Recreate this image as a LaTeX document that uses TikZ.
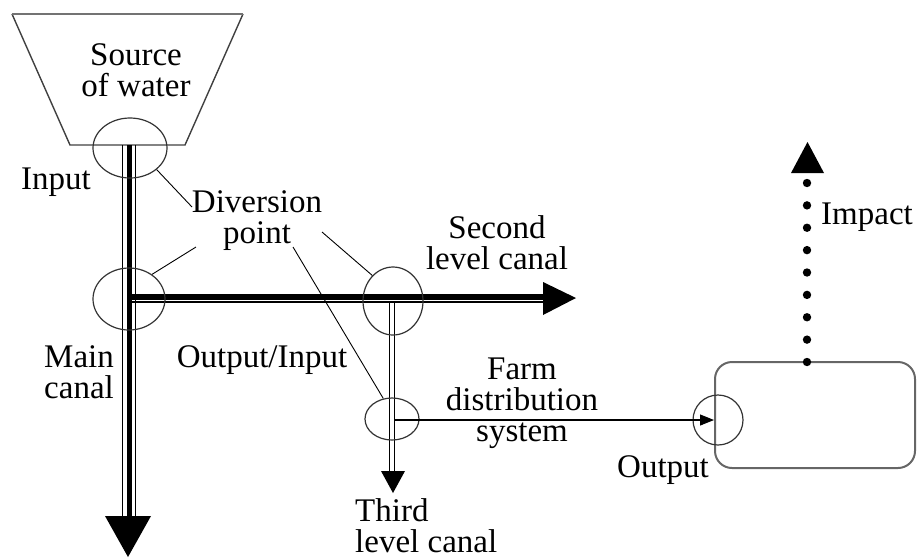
\documentclass[tikz,border=0pt]{standalone}
\usepackage{fontspec}
\setmainfont{Liberation Serif}
\usetikzlibrary{arrows.meta,shapes.geometric}
\begin{document}
\begin{tikzpicture}[x=1pt,y=-1pt,
  lbl/.style={font=\fontsize{33}{31}\selectfont, inner sep=0pt, align=center},
  ell/.style={draw=black!80, line width=1.2pt, ellipse, inner sep=0pt},
  leader/.style={draw=black, line width=0.9pt},
  thinc/.style={line width=1.3pt},
  thickc/.style={line width=5pt}]
\useasboundingbox (0,0) rectangle (920,558);
% source trapezoid
\draw[black!75, line width=1.4pt] (12,14) -- (70,145) -- (185,145) -- (243,14);
\draw[black!55, line width=2.6pt] (12,14) -- (243,14);
\node[lbl, anchor=north] (src) at (136,43) {Source\\of water};
% main canal
\coordinate (mtop) at (129,145);
\coordinate (mbot) at (129,516);
\draw[thickc] (mtop) -- (mbot);
\draw[thinc] ([xshift=-6.5pt]mtop) -- ([xshift=-6.5pt]mbot);
\draw[thinc] ([xshift=6.5pt]mtop) -- ([xshift=6.5pt]mbot);
\fill (105,516) -- (151,516) -- (128,557) -- cycle;
% second level canal
\coordinate (hs) at (132,296.5);
\coordinate (he) at (544,296.5);
\draw[line width=6pt] (hs) -- (he);
\draw[thinc] ([yshift=-5.5pt]hs) -- ([yshift=-5.5pt]he);
\fill (543,282) -- (576,298) -- (543,315) -- cycle;
% third level canal
\coordinate (ts) at (392,302);
\coordinate (te) at (392,472);
\draw[line width=1.2pt] ([xshift=-2.6pt]ts) -- ([xshift=-2.6pt]te);
\draw[line width=1.2pt] ([xshift=2.6pt]ts) -- ([xshift=2.6pt]te);
\fill (381,471) -- (405,471) -- (393,493) -- cycle;
% ellipses
\node[ell, minimum width=74pt, minimum height=60pt] (c1) at (130,148) {};
\node[ell, minimum width=72pt, minimum height=62pt] (c2) at (129,299) {};
\node[ell, minimum width=60pt, minimum height=68pt] (c3) at (393,301) {};
\node[ell, minimum width=54pt, minimum height=42pt] (c4) at (392,419) {};
% outcome box
\node[draw=black!60, line width=2pt, rounded corners=17pt, minimum width=200pt, minimum height=106pt, inner sep=0pt] (rr) at (815,415) {};
\node[ell, circle, minimum size=50pt] (c5) at (718,420) {};
% farm distribution line
\coordinate (fs) at (395,420);
\draw[line width=1.1pt, -{Triangle[length=14pt,width=11pt]}] (fs) -- (rr.west |- fs);
% impact
\foreach \i in {0,...,8} \fill (807,362-\i*22.375) circle (4.2pt);
\fill (791,173) -- (824,173) -- (807.5,142) -- cycle;
% labels
\node[lbl, anchor=north] (inp) at (56,168) {Input};
\node[lbl, anchor=north] (div) at (257,190) {Diversion\\point};
\node[lbl, anchor=north] (sec) at (497,215) {Second\\level canal};
\node[lbl, anchor=north] (mainc) at (79,345) {Main\\canal};
\node[lbl, anchor=north] (oi) at (262,345) {Output/Input};
\node[lbl, anchor=north] (farm) at (522,358) {Farm\\distribution\\system};
\node[lbl, anchor=north] (outp) at (663,455) {Output};
\node[lbl, anchor=north] (imp) at (867,203) {Impact};
\node[lbl, anchor=north west, align=left] (third) at (355,498) {Third\\level canal};
% leaders
\coordinate (l1) at (192,207);
\coordinate (l2) at (196,247);
\coordinate (l3) at (322,232);
\coordinate (l4) at (293,247);
\draw[leader] (c1.-39) -- (l1);
\draw[leader] (c2.47) -- (l2);
\draw[leader] (l3) -- (c3.129);
\draw[leader] (l4) -- (c4.113);
\end{tikzpicture}
\end{document}
